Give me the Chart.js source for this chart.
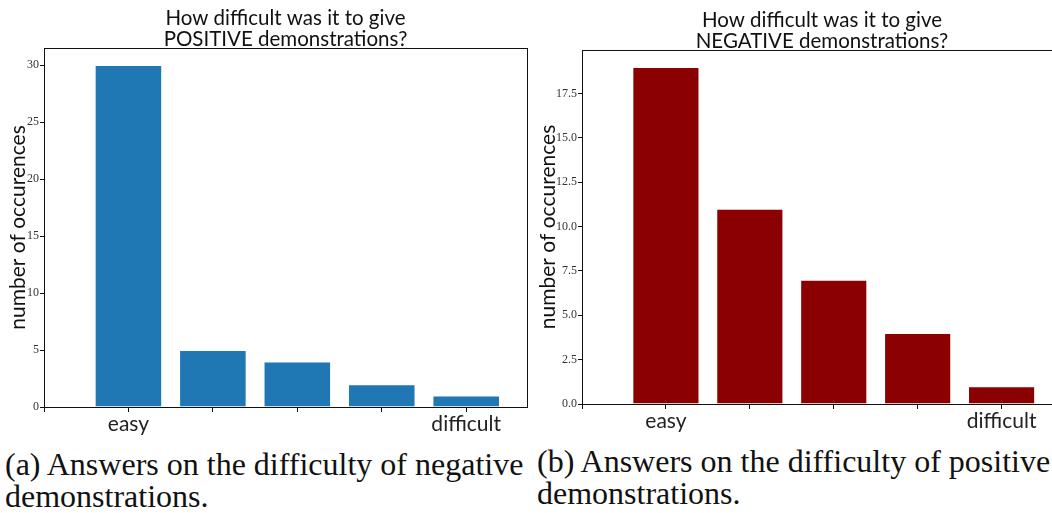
<!DOCTYPE html>
<html>
<head>
<meta charset="utf-8">
<script src="https://cdn.jsdelivr.net/npm/chart.js@4.4.1/dist/chart.umd.min.js"></script>
<style>
  html, body { margin: 0; padding: 0; background: #fff; }
  body { width: 1052px; height: 513px; overflow: hidden; position: relative; }
  .plot { position: absolute; top: 0; }
  .caption {
    position: absolute; white-space: nowrap;
    font-family: "Liberation Serif", serif; font-size: 32px; line-height: 32px; color: #111;
  }
</style>
</head>
<body>
<div class="plot" style="left:0; width:530px; height:440px;"><canvas id="posChart"></canvas></div>
<div class="plot" style="left:530px; width:540px; height:440px;"><canvas id="negChart"></canvas></div>
<div class="caption" style="left:5px; top:448px;">(a) Answers on the difficulty of negative<br>demonstrations.</div>
<div class="caption" style="left:537px; top:445px;">(b) Answers on the difficulty of positive<br>demonstrations.</div>
<script>
// answers on a 5-step scale, easy -> difficult
const levels = [0, 1, 2, 3, 4];
const positiveCounts = [30, 5, 4, 2, 1];
const negativeCounts = [19, 11, 7, 4, 1];

const xTickValues = [-1, 0, 1, 2, 3, 4];
const xTickLabels = ['', 'easy', '', '', '', 'difficult'];
const posYTicks = [0, 5, 10, 15, 20, 25, 30];
const negYTicks = [0, 2.5, 5, 7.5, 10, 12.5, 15, 17.5];

const yLabel = 'number of occurences';

// full box around the plot area + overlapping y label (matplotlib style)
const framePlugin = {
  id: 'frame',
  afterDraw(chart) {
    const { ctx, chartArea: a } = chart;
    ctx.save();
    ctx.strokeStyle = '#111';
    ctx.lineWidth = 1;
    ctx.strokeRect(Math.round(a.left) + 0.5, Math.round(a.top) + 0.5,
      Math.round(a.right - a.left), Math.round(a.bottom - a.top));
    ctx.translate(25, (a.top + a.bottom) / 2);
    ctx.rotate(-Math.PI / 2);
    ctx.font = '21px Lato';
    ctx.fillStyle = '#111';
    ctx.textAlign = 'center';
    ctx.textBaseline = 'alphabetic';
    ctx.fillText(yLabel, 0, 0);
    ctx.restore();
  }
};

function makeChart(id, counts, color, titleLines, yMax, yTicks, opts) {
  return new Chart(document.getElementById(id), {
    type: 'bar',
    data: {
      datasets: [{
        data: levels.map((x, i) => ({ x: x, y: counts[i] })),
        backgroundColor: color,
        borderColor: 'rgba(255,255,255,0.35)',
        borderWidth: 1,
        categoryPercentage: 1,
        barPercentage: 0.8
      }]
    },
    plugins: [framePlugin],
    options: {
      responsive: true,
      maintainAspectRatio: false,
      animation: false,
      layout: { padding: { left: 0, right: opts.padRight, top: 0, bottom: 0 } },
      plugins: {
        legend: { display: false },
        tooltip: { enabled: false },
        title: {
          display: true,
          fullSize: false,
          text: titleLines,
          color: '#111',
          font: { family: 'Lato', size: 20.5, weight: 'normal', lineHeight: 1.025 },
          padding: { top: opts.titleTop, bottom: -2 }
        }
      },
      scales: {
        x: {
          type: 'linear',
          min: -1,
          max: 4.72,
          offset: false,
          afterBuildTicks: (axis) => { axis.ticks = xTickValues.map(v => ({ value: v })); },
          afterFit: (axis) => { axis.height = opts.xHeight; },
          grid: { display: true, drawOnChartArea: false, offset: false, tickLength: 5, color: '#111' },
          border: { display: true, color: '#111', width: 1 },
          ticks: {
            autoSkip: false,
            maxRotation: 0,
            padding: 0,
            color: '#222',
            font: { family: 'Lato', size: 21 },
            callback: (v) => xTickLabels[xTickValues.indexOf(v)] ?? ''
          }
        },
        y: {
          min: 0,
          max: yMax,
          afterBuildTicks: (axis) => { axis.ticks = yTicks.map(v => ({ value: v })); },
          afterFit: (axis) => { axis.width = opts.yWidth; },
          grid: { display: true, drawOnChartArea: false, tickLength: 4, color: '#111' },
          border: { display: true, color: '#111', width: 1 },
          ticks: {
            padding: 1,
            color: '#333',
            font: { family: 'Liberation Serif', size: 12 },
            callback: opts.yFormat
          }
        }
      }
    }
  });
}

makeChart('posChart', positiveCounts, '#1f77b4',
  ['How difficult was it to give', 'POSITIVE demonstrations?'],
  31.5, posYTicks,
  { padRight: 3, yWidth: 44, xHeight: 33, titleTop: 8, yFormat: (v) => String(v) });

makeChart('negChart', negativeCounts, '#8b0000',
  ['How difficult was it to give', 'NEGATIVE demonstrations?'],
  19.95, negYTicks,
  { padRight: 8, yWidth: 52, xHeight: 36, titleTop: 10, yFormat: (v) => v.toFixed(1) });
</script>
</body>
</html>
